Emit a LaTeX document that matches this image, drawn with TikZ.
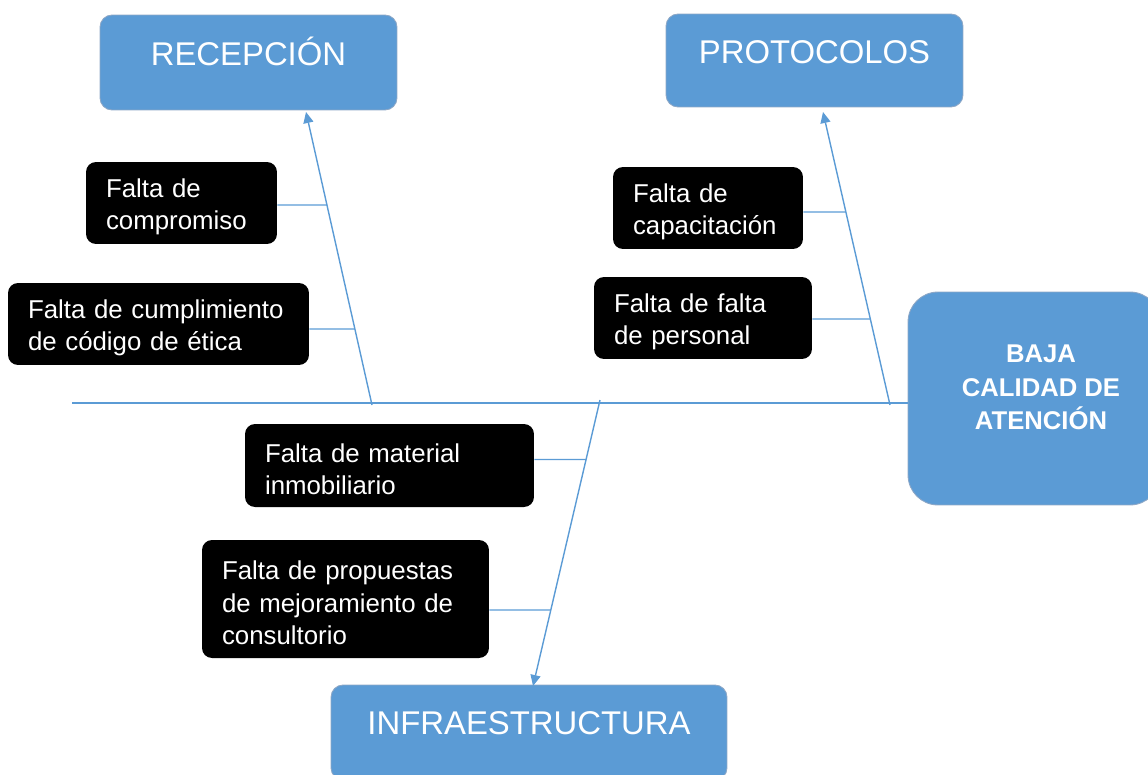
\documentclass[tikz,border=0pt]{standalone}
\usepackage{fontspec}
\setmainfont{Liberation Sans}
\usetikzlibrary{arrows.meta}
\definecolor{mblue}{HTML}{5B9BD5}
\definecolor{mborder}{HTML}{8DA7C6}
\tikzset{
  bluebox/.style={rectangle, rounded corners=0.24cm, fill=mblue, draw=mborder, line width=0.5pt, inner sep=0pt},
  boxtext/.style={text=white, font=\fontsize{18.7}{22}\selectfont, text height=0.48cm, text depth=0pt, inner sep=0pt, anchor=center},
  bajatext/.style={text=white, font=\bfseries\fontsize{14.6}{19}\selectfont, align=center, inner sep=0pt, anchor=center},
  cause/.style={rectangle, rounded corners=0.2cm, fill=black, text=white, inner xsep=0pt, inner ysep=0pt, minimum height=1.64cm, align=left, font=\fontsize{14.7}{18.7}\selectfont, execute at begin node={\rule{0pt}{15pt}}},
  bone/.style={draw=mblue, line width=0.8pt},
  tip/.style={-{Triangle[length=0.22cm,width=0.2cm]}}
}
\begin{document}
\begin{tikzpicture}[x=0.02cm,y=-0.02cm]
\useasboundingbox (0,0) rectangle (1148,774);
% effect and main categories
\node[bluebox, minimum width=5.94cm, minimum height=1.9cm, label={[boxtext, yshift=0.19cm]center:RECEPCIÓN}] (rec) at (248.5,62.5) {};
\node[bluebox, minimum width=5.94cm, minimum height=1.86cm, label={[boxtext, yshift=0.19cm]center:PROTOCOLOS}] (pro) at (814.5,60.5) {};
\node[bluebox, rounded corners=0.6cm, minimum width=5.04cm, minimum height=4.26cm, label={[bajatext, yshift=0.22cm, xshift=0.14cm]center:{BAJA\\CALIDAD DE\\ATENCIÓN}}] (baja) at (1034,398.5) {};
\node[bluebox, minimum width=7.92cm, minimum height=1.9cm, label={[boxtext, yshift=0.21cm]center:INFRAESTRUCTURA}] (inf) at (529,732.5) {};
% causes
\node[cause, minimum width=3.82cm, text width=3.02cm] (c1) at (181.5,203) {Falta de\\compromiso};
\node[cause, minimum width=6.02cm, text width=5.22cm] (c2) at (158.5,324) {Falta de cumplimiento\\de código de ética};
\node[cause, minimum width=3.80cm, text width=3.00cm] (c3) at (708,208) {Falta de\\capacitación};
\node[cause, minimum width=4.36cm, text width=3.56cm] (c4) at (703,318) {Falta de falta\\de personal};
\node[cause, minimum width=5.78cm, minimum height=1.66cm, text width=4.98cm] (c5) at (389.5,465.5) {Falta de material\\inmobiliario};
\node[cause, minimum width=5.74cm, minimum height=2.36cm, text width=4.94cm] (c6) at (345.5,599) {Falta de propuestas\\de mejoramiento de\\consultorio};
% spine
\coordinate (spineStart) at (72,403);
\draw[bone] (spineStart) -- (spineStart -| baja.west);
% bones
\coordinate (recBase) at (372,405);
\coordinate (recTip) at (306,112);
\coordinate (proBase) at (890,405);
\coordinate (proTip) at (823,112);
\coordinate (infBase) at (600,400);
\coordinate (infTip) at (533,686);
\draw[bone, tip] (recBase) -- (recTip);
\draw[bone, tip] (proBase) -- (proTip);
\draw[bone, tip] (infBase) -- (infTip);
% sub-cause connectors
\path ([yshift=-0.04cm]c1.east) coordinate (c1a) ([xshift=5cm]c1a) coordinate (c1b);
\path ([yshift=-0.10cm]c2.east) coordinate (c2a) ([xshift=5cm]c2a) coordinate (c2b);
\path ([yshift=-0.08cm]c3.east) coordinate (c3a) ([xshift=5cm]c3a) coordinate (c3b);
\path ([yshift=-0.02cm]c4.east) coordinate (c4a) ([xshift=5cm]c4a) coordinate (c4b);
\path ([yshift=0.12cm]c5.east) coordinate (c5a) ([xshift=5cm]c5a) coordinate (c5b);
\path ([yshift=-0.22cm]c6.east) coordinate (c6a) ([xshift=5cm]c6a) coordinate (c6b);
\draw[bone] (c1a) -- (intersection of c1a--c1b and recBase--recTip);
\draw[bone] (c2a) -- (intersection of c2a--c2b and recBase--recTip);
\draw[bone] (c3a) -- (intersection of c3a--c3b and proBase--proTip);
\draw[bone] (c4a) -- (intersection of c4a--c4b and proBase--proTip);
\draw[bone] (c5a) -- (intersection of c5a--c5b and infBase--infTip);
\draw[bone] (c6a) -- (intersection of c6a--c6b and infBase--infTip);
\end{tikzpicture}
\end{document}
